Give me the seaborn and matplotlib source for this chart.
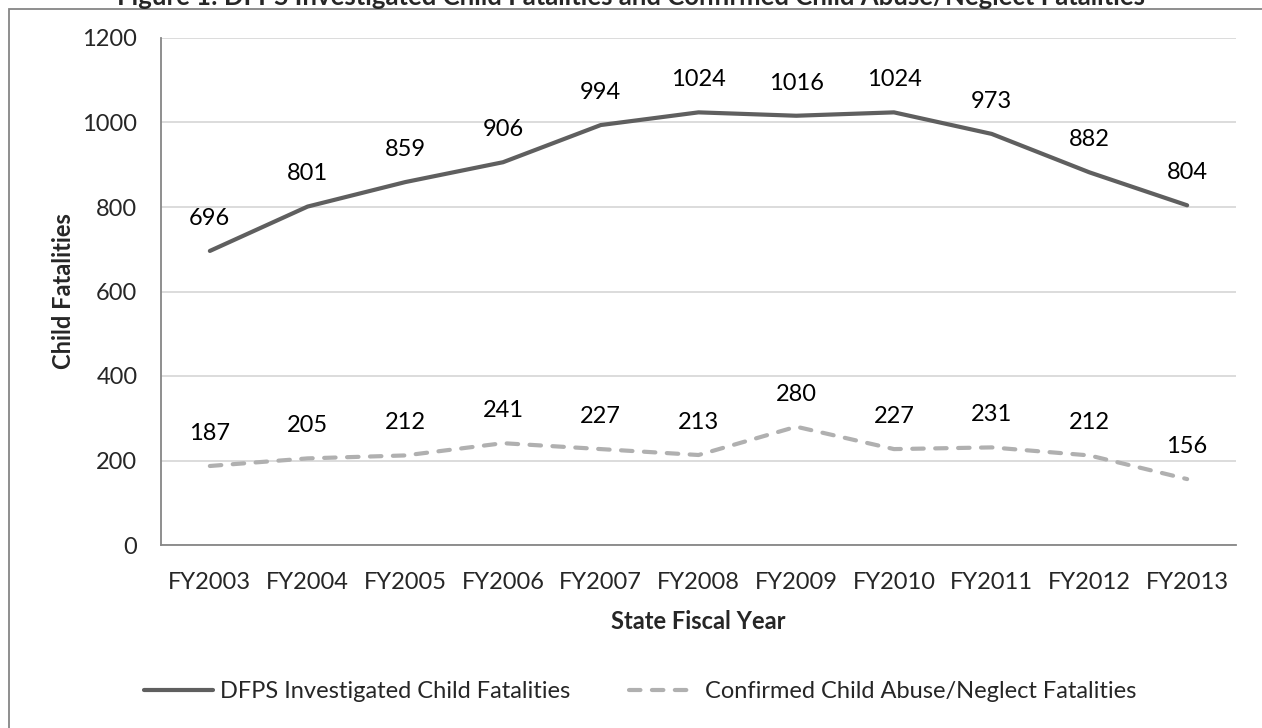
import pandas as pd
import seaborn as sns
import matplotlib.pyplot as plt
import matplotlib.patches as mpatches

years = ["FY2003", "FY2004", "FY2005", "FY2006", "FY2007", "FY2008",
         "FY2009", "FY2010", "FY2011", "FY2012", "FY2013"]
investigated = [696, 801, 859, 906, 994, 1024, 1016, 1024, 973, 882, 804]
confirmed = [187, 205, 212, 241, 227, 213, 280, 227, 231, 212, 156]

serInv = "DFPS Investigated Child Fatalities"
serConf = "Confirmed Child Abuse/Neglect Fatalities"

df = pd.DataFrame({
    "year": years * 2,
    "value": investigated + confirmed,
    "series": [serInv] * len(years) + [serConf] * len(years),
})

sns.set_style("white")
plt.rcParams["font.family"] = ["Lato", "DejaVu Sans"]

fs = 17
fig = plt.figure(figsize=(12.62, 7.28), dpi=100)
ax = fig.add_axes([161 / 1262, 1 - 545 / 728, 1075 / 1262, 507 / 728])

g = sns.lineplot(ax=ax, data=df, x="year", y="value", hue="series", style="series",
                 palette={serInv: "#5f5f5f", serConf: "#b0b0b0"},
                 dashes={serInv: "", serConf: (2.75, 2.75)},
                 linewidth=3.0, sort=False, legend=False)
for ln in ax.get_lines():
    ln.set_solid_capstyle("round")
    ln.set_dash_capstyle("round")
    ln.set_solid_joinstyle("round")

# подписи значений над точками
for vals in [investigated, confirmed]:
    for i, v in enumerate(vals):
        ax.annotate(str(v), (i, v), xytext=(0, 23.5), textcoords="offset points",
                    ha="center", va="center", fontsize=fs, color="black")

ax.set_xlim(-0.5, len(years) - 0.5)
ax.set_ylim(0, 1200)
ax.set_yticks(range(0, 1201, 200))
ax.grid(axis="y", color="#d9d9d9", linewidth=1.3)
ax.set_axisbelow(True)
for s in ["top", "right"]:
    ax.spines[s].set_visible(False)
for s in ["left", "bottom"]:
    ax.spines[s].set_color("#868686")
    ax.spines[s].set_linewidth(1.3)
ax.tick_params(axis="both", length=0, labelsize=fs)
ax.tick_params(axis="y", pad=17)
ax.tick_params(axis="x", pad=19.5)

ax.set_xlabel("State Fiscal Year", fontsize=fs, fontweight="bold", labelpad=12)
ax.set_ylabel("Child Fatalities", fontsize=fs, fontweight="bold", labelpad=5)

h1 = plt.Line2D([], [], color="#5f5f5f", linewidth=3.0, solid_capstyle="round")
h2 = plt.Line2D([], [], color="#b0b0b0", linewidth=3.0, linestyle=(0, (2.75, 2.75)),
                dash_capstyle="round")
ax.legend(handles=[h1, h2], labels=[serInv, serConf], loc="center",
          bbox_to_anchor=(640 / 1262, 1 - 692 / 728), bbox_transform=fig.transFigure,
          ncol=2, frameon=False, fontsize=fs, handlelength=2.9, handletextpad=0.3,
          columnspacing=2.5)

fig.text(0.5, 1 - 5 / 728, "Figure 1: DFPS Investigated Child Fatalities and Confirmed Child Abuse/Neglect Fatalities",
         ha="center", va="baseline", fontsize=18.5, fontweight="bold")

border = mpatches.Rectangle((9 / 1262, -0.1), 1.2, 1 - 9 / 728 + 0.1, transform=fig.transFigure,
                            fill=False, edgecolor="#868686", linewidth=1.3)
fig.patches.append(border)

fig.savefig("out.png", dpi=100)
